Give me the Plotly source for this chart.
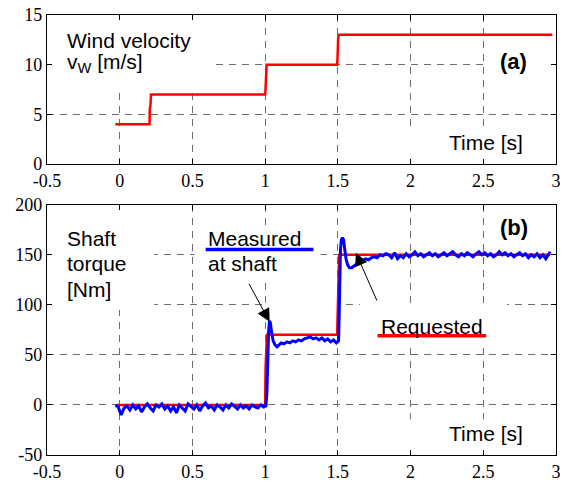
import plotly.graph_objects as go

# ---- (a) wind velocity step profile ----
t_wind = [-0.03, 0.205, 0.207, 0.211, 0.215, 1.0, 1.002, 1.006, 1.01, 1.495, 1.497, 1.502, 1.506, 2.975]
v_wind = [4, 4, 5.6, 5.8, 7, 7, 7.3, 9.4, 10, 10, 10.4, 12.6, 13, 13]

# ---- (b) shaft torque: requested reference ----
t_req = [-0.02, 1.0, 1.003, 1.007, 1.013, 1.495, 1.499, 1.504, 1.509, 2.96]
tq_req = [0, 0, 38, 64, 70, 70, 105, 140, 150, 150]

# ---- (b) shaft torque: measured at shaft ----
t_meas = [
    -0.03, -0.01, 0.01, 0.03, 0.05, 0.07, 0.09, 0.11, 0.13, 0.15, 0.17, 0.19, 0.21,
    0.23, 0.25, 0.27, 0.29, 0.31, 0.33, 0.35, 0.37, 0.39, 0.41, 0.43, 0.45, 0.47,
    0.49, 0.51, 0.53, 0.55, 0.57, 0.59, 0.61, 0.63, 0.65, 0.67, 0.69, 0.71, 0.73,
    0.75, 0.77, 0.79, 0.81, 0.83, 0.85, 0.87, 0.89, 0.91, 0.93, 0.95, 0.97, 0.99,
    1.005, 1.012, 1.018, 1.024, 1.030, 1.036, 1.044, 1.055, 1.068, 1.082, 1.096,
    1.11, 1.13, 1.15, 1.17, 1.19, 1.21, 1.23, 1.25, 1.27, 1.29, 1.31, 1.33, 1.35,
    1.37, 1.39, 1.41, 1.43, 1.45, 1.47, 1.49,
    1.505, 1.509, 1.513, 1.518, 1.524, 1.532, 1.539, 1.547, 1.556, 1.567, 1.58,
    1.595, 1.61, 1.625, 1.64, 1.655, 1.67, 1.69, 1.71, 1.73, 1.75, 1.77, 1.79,
    1.81, 1.83,
    1.85, 1.87, 1.89, 1.91, 1.93, 1.95, 1.97, 1.99, 2.01, 2.03, 2.05, 2.07, 2.09,
    2.11, 2.13, 2.15, 2.17, 2.19, 2.21, 2.23, 2.25, 2.27, 2.29, 2.31, 2.33, 2.35,
    2.37, 2.39, 2.41, 2.43, 2.45, 2.47, 2.49, 2.51, 2.53, 2.55, 2.57, 2.59, 2.61,
    2.63, 2.65, 2.67, 2.69, 2.71, 2.73, 2.75, 2.77, 2.79, 2.81, 2.83, 2.85, 2.87,
    2.89, 2.91, 2.93, 2.95, 2.96,
]
tq_meas = [
    0, -2, -10, -3, -1, -5, 0, -4, -1, -7, -2, 1, -3,
    -6, 0, -2, 1, -4, -1, -6, -2, -8, 0, -3, -6, 1,
    -2, -4, 0, -6, -1, 2, -3, -1, -5, 0, -2, -5, 0,
    -3, 1, -2, -4, 0, -3, -1, -4, 0, -2, -3, 0, -2,
    -1, 12, 48, 74, 84, 82, 73, 64, 60, 58, 60,
    62, 61, 63, 62, 64, 63, 65, 64, 66, 67, 68, 66, 67,
    65, 67, 64, 66, 63, 65, 62,
    64, 90, 130, 155, 165, 167, 165, 156, 146, 140, 137,
    137, 139, 141, 142, 143, 144, 146, 145, 147, 148, 147, 150,
    149, 151,
    150, 147, 152, 146, 149, 147, 151, 148, 150, 153, 149, 151, 148,
    150, 152, 149, 151, 148, 150, 152, 149, 151, 153, 150, 148, 151,
    149, 152, 150, 148, 151, 153, 150, 152, 149, 151, 148, 150, 153,
    150, 152, 149, 151, 148, 150, 152, 149, 151, 147, 150, 148, 151,
    147, 150, 146, 151, 153,
]

# ---- axis ticks ----
x_ticks = [-0.5, 0, 0.5, 1, 1.5, 2, 2.5, 3]
x_ticklabels = ["-0.5", "0", "0.5", "1", "1.5", "2", "2.5", "3"]
ya_ticks = [0, 5, 10, 15]
ya_ticklabels = ["0", "5", "10", "15"]
yb_ticks = [-50, 0, 50, 100, 150, 200]
yb_ticklabels = ["-50", "0", "50", "100", "150", "200"]

RED = "#ff0000"
BLUE = "#0000ff"
GRID = "#6e6e6e"
SANS = "Liberation Sans"
SERIF = "Liberation Serif"

fig = go.Figure()
fig.add_trace(go.Scatter(x=t_wind, y=v_wind, mode="lines",
                         line=dict(color=RED, width=2.5), xaxis="x", yaxis="y"))
fig.add_trace(go.Scatter(x=t_req, y=tq_req, mode="lines",
                         line=dict(color=RED, width=2.5), xaxis="x2", yaxis="y2"))
fig.add_trace(go.Scatter(x=t_meas, y=tq_meas, mode="lines",
                         line=dict(color=BLUE, width=3), xaxis="x2", yaxis="y2"))

tick_font = dict(family=SERIF, size=18, color="black")

axis_common = dict(
    showline=True, linecolor="black", linewidth=1.2, mirror="ticks",
    ticks="inside", ticklen=5, tickcolor="black", tickwidth=1,
    showgrid=True, gridcolor=GRID, gridwidth=1, griddash="7px,6px",
    zeroline=False,
)

fig.update_layout(
    width=566, height=487,
    margin=dict(l=47, r=5, t=13, b=31),
    paper_bgcolor="white", plot_bgcolor="white",
    showlegend=False,
    font=dict(family=SANS, color="black"),
    xaxis=dict(domain=[0, 1], anchor="y", range=[-0.5, 3], tickfont=tick_font,
               tickvals=x_ticks, ticktext=x_ticklabels, **axis_common),
    yaxis=dict(domain=[0.6614, 1], anchor="x", range=[0, 15], tickfont=tick_font,
               tickvals=ya_ticks, ticktext=ya_ticklabels, **axis_common),
    xaxis2=dict(domain=[0, 1], anchor="y2", range=[-0.5, 3], tickfont=tick_font,
                tickvals=x_ticks, ticktext=x_ticklabels, **axis_common),
    yaxis2=dict(domain=[0, 0.5688], anchor="x2", range=[-50, 200], tickfont=tick_font,
                tickvals=yb_ticks, ticktext=yb_ticklabels, **axis_common),
)

# white panels behind the labels (above the grid, below the curves)
def white_box(xref, yref, x0, x1, y0, y1):
    fig.add_shape(type="rect", xref=xref, yref=yref, x0=x0, x1=x1, y0=y0, y1=y1,
                  fillcolor="white", line=dict(width=0), layer="between")

white_box("x", "y", -0.5, 0.652, 7.6, 15)
white_box("x", "y", 2.51, 2.975, 8.6, 11.6)
white_box("x", "y", 1.9, 3.0, 0, 3.7)
white_box("x2", "y2", -0.5, 0.238, 94.8, 200)
white_box("x2", "y2", 0.515, 1.38, 124.6, 177)
white_box("x2", "y2", 1.005, 1.495, 96, 104)
white_box("x2", "y2", 1.651, 2.663, 58, 101.8)
white_box("x2", "y2", 1.9, 3.0, -50, -14.3)

# colour keys under the curve names
fig.add_shape(type="line", xref="x2", yref="y2", x0=0.591, x1=1.332, y0=155.4, y1=155.4,
              line=dict(color=BLUE, width=3.5))
fig.add_shape(type="line", xref="x2", yref="y2", x0=1.773, x1=2.52, y0=69.0, y1=69.0,
              line=dict(color=RED, width=3.5))

def label(text, xref, yref, x, y, size=21, bold=False, anchor="left"):
    if bold:
        text = "<b>" + text + "</b>"
    fig.add_annotation(text=text, xref=xref, yref=yref, x=x, y=y,
                       xanchor=anchor, yanchor="middle", showarrow=False,
                       font=dict(family=SANS, size=size, color="black"))

label("Wind velocity", "x", "y", -0.375, 12.45)
label("v<sub>W</sub> [m/s]", "x", "y", -0.375, 10.2)
label("(a)", "x", "y", 2.707, 10.3, size=22, bold=True, anchor="center")
label("Time [s]", "x", "y", 2.25, 2.2)

label("Shaft", "x2", "y2", -0.375, 166.6)
label("torque", "x2", "y2", -0.375, 140.8)
label("[Nm]", "x2", "y2", -0.375, 115.4)
label("Measured", "x2", "y2", 0.59, 166.6)
label("at shaft", "x2", "y2", 0.59, 140.8)
label("Requested", "x2", "y2", 1.78, 78.3)
label("(b)", "x2", "y2", 2.71, 177.5, size=22, bold=True, anchor="center")
label("Time [s]", "x2", "y2", 2.25, -28.2)

# pointer arrows
def pointer(x, y, ax, ay):
    fig.add_annotation(xref="x2", yref="y2", axref="x2", ayref="y2",
                       x=x, y=y, ax=ax, ay=ay, text="", showarrow=True,
                       arrowhead=2, arrowsize=2.6, arrowwidth=1, arrowcolor="black",
                       standoff=0)

pointer(1.031, 83.0, 0.883, 122.6)
pointer(1.624, 152.0, 1.773, 102.8)

fig.write_html("out.html")
